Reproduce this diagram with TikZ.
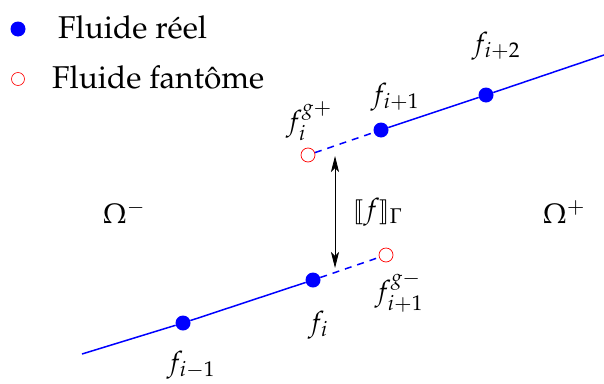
\documentclass[tikz,border=0pt]{standalone}
\usepackage[T1]{fontenc}
\usepackage{mathpazo}
\usepackage{stmaryrd}
\usetikzlibrary{arrows.meta}
\tikzset{
  real/.style={circle,fill=blue,draw=none,inner sep=0pt,minimum size=15pt},
  ghost/.style={circle,draw=red,fill=white,line width=0.7pt,inner sep=0pt,minimum size=14pt},
  fluid/.style={blue,line width=1.5pt},
  fluiddash/.style={blue,line width=1.5pt,dash pattern=on 7pt off 6pt},
  lab/.style={inner sep=0pt,font=\fontsize{28}{33}\selectfont},
  legtext/.style={inner sep=0pt,anchor=base west,font=\fontsize{31.5}{38}\selectfont},
}
\begin{document}
\begin{tikzpicture}[x=1pt,y=-1pt]
\useasboundingbox (0,0) rectangle (604,383);
% legend
\node[real] (legr) at (18,29) {};
\node[legtext] (legrt) at (58,38) {Fluide r\'eel};
\node[ghost,minimum size=13pt,line width=0.6pt] (legg) at (18,79) {};
\node[legtext] (leggt) at (52,88) {Fluide fant\^ome};
% lower line
\coordinate (lend) at (82,354);
\node[real] (fim1) at (183,323) {};
\node[real] (fi) at (313,280) {};
\node[ghost] (gm) at (386,255) {};
% upper line
\node[ghost] (gp) at (308,155) {};
\node[real] (fip1) at (381,130) {};
\node[real] (fip2) at (486,95) {};
\coordinate (rend) at (604,55);
\draw[fluid] (lend) -- (fim1) -- (fi);
\draw[fluiddash] (fi) -- (gm);
\draw[fluiddash] (gp) -- (fip1);
\draw[fluid] (fip1) -- (fip2) -- (rend);
% jump arrow
\coordinate (at) at (335,156);
\coordinate (ab) at (335,268);
\draw[line width=0.8pt,{Stealth[length=16pt,width=8pt,inset=4pt]}-{Stealth[length=16pt,width=8pt,inset=4pt]}] (at) -- (ab);
% labels
\node[lab] (ljump) at (378,212) {$\llbracket f\rrbracket_{\Gamma}$};
\node[lab] (lom) at (124,212) {$\Omega^{-}$};
\node[lab] (lop) at (564,212) {$\Omega^{+}$};
\node[lab] (lgp) at (309,121) {$f_i^{g+}$};
\node[lab] (lfip1) at (395,97) {$f_{i+1}$};
\node[lab] (lfip2) at (496,46) {$f_{i+2}$};
\node[lab] (lfi) at (318,325) {$f_i$};
\node[lab] (lgm) at (399,292) {$f_{i+1}^{g-}$};
\node[lab] (lfim1) at (191,365) {$f_{i-1}$};
\end{tikzpicture}
\end{document}
